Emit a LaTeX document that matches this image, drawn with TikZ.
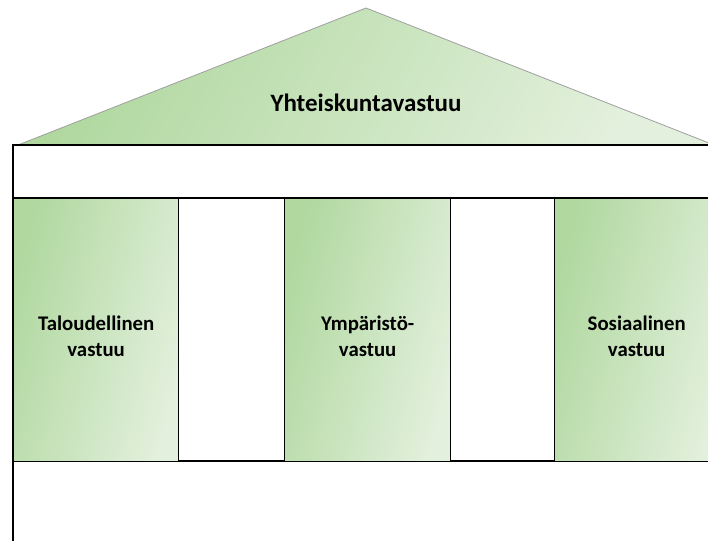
\documentclass[tikz,border=0pt]{standalone}
\usepackage{fontspec}
\setmainfont{Carlito}
\usetikzlibrary{positioning}
\definecolor{leafgreen}{HTML}{B0D89F}
\definecolor{palegreen}{HTML}{E3F0DD}

\begin{document}
\begin{tikzpicture}[x=1pt, y=-1pt,
  pillar/.style={draw=black, line width=1.3pt, left color=leafgreen, right color=palegreen,
    shading angle=75, minimum height=263pt, anchor=north west, inner sep=0pt},
  pillartext/.style={align=center, font=\fontsize{20.8}{26}\selectfont\bfseries},
  frame/.style={draw=black, line width=1.3pt}]
\useasboundingbox (0,0) rectangle (708,540);
\clip (0,0) rectangle (708,540);
% roof
\shade[draw=gray!75, line width=0.8pt, left color=leafgreen, right color=palegreen, shading angle=60]
  (18,145) -- (366,8) -- (714,145) -- cycle;
\node[font=\fontsize{25}{30}\selectfont\bfseries] (katto) at (366,103) {Yhteiskuntavastuu};
% building
\draw[frame] (13,560) -- (13,145) -- (730,145);
\draw[frame] (13,198) -- (730,198);
\draw[frame] (13,461) -- (730,461);
% pillars
\node[pillar, minimum width=165pt] (talous) at (13,198) {};
\node[pillar, minimum width=166pt] (ymparisto) at (284,198) {};
\node[pillar, minimum width=170pt] (sosiaali) at (554,198) {};
\node[pillartext] (taloustxt) at ([yshift=-6pt]talous.center) {Taloudellinen\\vastuu};
\node[pillartext] (ymparistotxt) at ([yshift=-6pt]ymparisto.center) {Ympäristö-\\vastuu};
\node[pillartext] (sosiaalitxt) at ([xshift=-3pt, yshift=-6pt]sosiaali.center) {Sosiaalinen\\vastuu};
\end{tikzpicture}
\end{document}
